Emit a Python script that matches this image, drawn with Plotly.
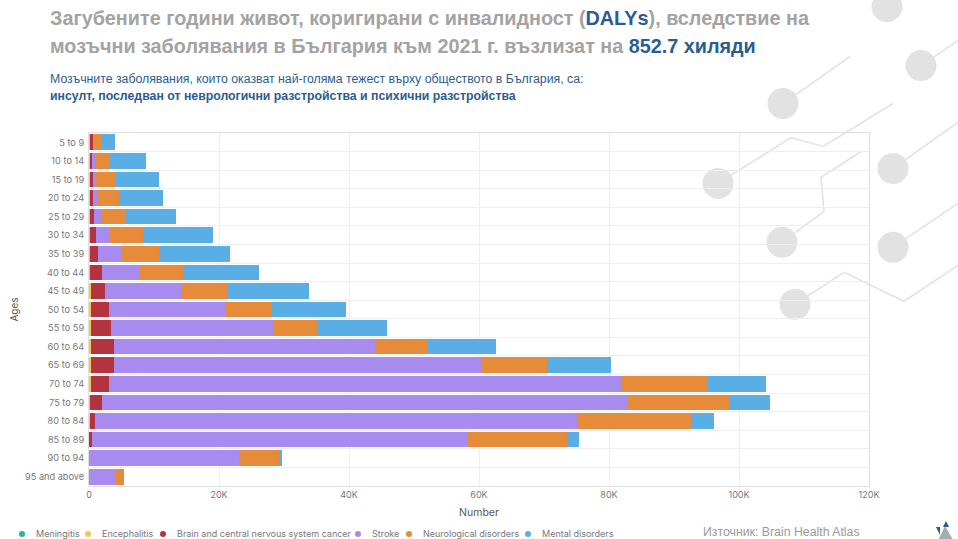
import plotly.graph_objects as go

ages = ["5 to 9","10 to 14","15 to 19","20 to 24","25 to 29","30 to 34","35 to 39","40 to 44","45 to 49",
        "50 to 54","55 to 59","60 to 64","65 to 69","70 to 74","75 to 79","80 to 84","85 to 89","90 to 94","95 and above"]
meningitis = [60,50,50,50,50,60,70,80,100,120,150,150,120,100,50,30,20,10,0]
encephalitis = [60,50,50,50,50,70,90,110,130,150,170,190,200,180,130,70,30,10,0]
brain_cancer = [580,500,500,500,720,900,1280,1760,2270,2830,3080,3510,3480,2820,1820,820,410,30,0]
stroke = [120,270,530,840,1030,2170,3460,5900,11650,17900,25000,40150,56700,78700,80900,74080,57740,22950,4050]
neurological = [980,2230,3020,3160,3650,5100,5800,6650,7250,7200,6900,8200,10000,13500,15600,17600,15300,6300,1250]
mental = [2250,5600,6650,6800,7900,10700,11000,11650,12400,11400,10500,10400,9800,8900,6200,3600,1900,450,50]
x_ticks = [0,20000,40000,60000,80000,100000,120000]
x_tick_labels = ["0","20K","40K","60K","80K","100K","120K"]

series = [
    ("Meningitis", meningitis, "#2bb3a3", 22),
    ("Encephalitis", encephalitis, "#eecb4a", 88),
    ("Brain and central nervous system cancer", brain_cancer, "#b5333f", 163),
    ("Stroke", stroke, "#a78bee", 358),
    ("Neurological disorders", neurological, "#e58b3a", 409),
    ("Mental disorders", mental, "#5aaee6", 528),
]

L, R, T, B = 89, 869, 132.5, 486
W, H = 958, 539
def px(x): return (x - L) / (R - L)
def py(y): return (B - y) / (B - T)

fig = go.Figure()
for name, vals, col, _ in series:
    fig.add_bar(y=ages, x=vals, name=name, orientation="h", marker=dict(color=col, line=dict(width=0)), showlegend=False)

shapes = []
DECOR = "#e2e2e2"
circles = [(887,6),(921,65),(783,103),(718,183),(893,168),(782,242),(893,247),(795,304)]
for cx, cy in circles:
    shapes.append(dict(type="circle", xref="paper", yref="paper", layer="below", fillcolor=DECOR, line=dict(width=0),
                       x0=px(cx-15.5), x1=px(cx+15.5), y0=py(cy+15.5), y1=py(cy-15.5)))
paths = [
    [(783,103),(850,56)],
    [(921,65),(958,40)],
    [(718,183),(791,137),(823,146),(893,103)],
    [(893,168),(958,122)],
    [(782,242),(824,211),(821,177),(861,151)],
    [(893,247),(958,203)],
    [(795,304),(844,272),(904,301),(958,265)],
]
for p in paths:
    d = "M " + " L ".join(f"{px(a):.5f} {py(b):.5f}" for a, b in p)
    shapes.append(dict(type="path", path=d, xref="paper", yref="paper", layer="below", line=dict(color=DECOR, width=1.6)))
# small logo bottom right
shapes.append(dict(type="path", path=f"M {px(945):.5f} {py(526):.5f} L {px(936):.5f} {py(545):.5f} L {px(956):.5f} {py(545):.5f} Z",
                   xref="paper", yref="paper", fillcolor="#a4abb3", line=dict(width=0)))
shapes.append(dict(type="path", path=f"M {px(946):.5f} {py(521):.5f} L {px(943):.5f} {py(527):.5f} L {px(949):.5f} {py(527):.5f} Z",
                   xref="paper", yref="paper", fillcolor="#2a5a8c", line=dict(width=0)))
shapes.append(dict(type="path", path=f"M {px(936):.5f} {py(527):.5f} L {px(940):.5f} {py(527):.5f} L {px(940):.5f} {py(535):.5f} Z",
                   xref="paper", yref="paper", fillcolor="#2a5a8c", line=dict(width=0)))

GREY = "#a3a3a3"
BLUE = "#2b5c8f"
def note(x, y, text, size, color, family="Liberation Sans"):
    return dict(x=px(x), y=py(y), xref="paper", yref="paper", xanchor="left", yanchor="middle", showarrow=False,
                text=text, align="left", font=dict(size=size, color=color, family=family))
anns = [
    note(48, 17, f"<b>Загубените години живот, коригирани с инвалидност (<span style='color:{BLUE}'>DALYs</span>), вследствие на</b>", 19.8, GREY),
    note(48, 45.5, f"<b>мозъчни заболявания в България към 2021 г. възлизат на <span style='color:{BLUE}'>852.7 хиляди</span></b>", 19.8, GREY),
    note(48, 78, "Мозъчните заболявания, които оказват най-голяма тежест върху обществото в България, са:", 12.3, BLUE),
    note(48, 95, "<b>инсулт, последван от неврологични разстройства и психични разстройства</b>", 12.3, BLUE),
    note(701, 532.5, "Източник: Brain Health Atlas", 12.3, "#9a9a9a"),
]
# legend row
for name, vals, col, mx in series:
    shapes.append(dict(type="circle", xref="paper", yref="paper", fillcolor=col, line=dict(width=0),
                       x0=px(mx-3), x1=px(mx+3), y0=py(537), y1=py(531)))
    anns.append(note(mx+12, 533.5, name, 9, "#777777", "Inter"))

fig.update_layout(
    width=W, height=H, barmode="stack", bargap=0.16, showlegend=False,
    paper_bgcolor="white", plot_bgcolor="rgba(0,0,0,0)",
    margin=dict(l=L, r=W-R, t=T, b=H-B, autoexpand=False),
    font=dict(family="Inter", size=9, color="#777777"),
    shapes=shapes, annotations=anns,
    xaxis=dict(range=[0,120000], tickvals=x_ticks, ticktext=x_tick_labels, tickfont=dict(size=9, color="#777777"),
               showgrid=True, gridcolor="#eeeeee", gridwidth=1, showline=True, linecolor="#e0e0e0", mirror=True,
               zeroline=False, ticks="", title=dict(text="Number", font=dict(size=10.5, color="#555555"), standoff=9)),
    yaxis=dict(autorange="reversed", type="category", categoryorder="array", categoryarray=ages, tickson="boundaries",
               tickfont=dict(size=9.2, color="#777777"), showgrid=True, gridcolor="#eeeeee", gridwidth=1,
               showline=True, linecolor="#e0e0e0", mirror=True, zeroline=False, ticks="", ticklabelstandoff=2,
               title=dict(text="Ages", font=dict(size=10, color="#555555"), standoff=4)),
)
fig.write_html("out.html", config={"displayModeBar": False},
               post_script="document.body.style.margin='0';document.body.style.overflow='hidden';")
